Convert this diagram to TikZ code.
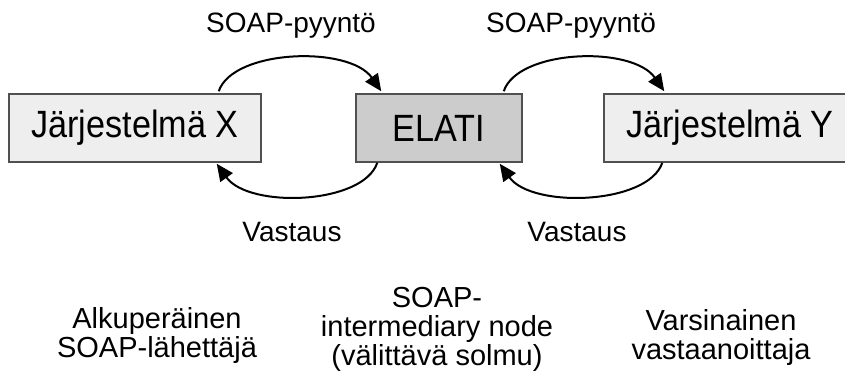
\documentclass[tikz,border=0pt]{standalone}
\usepackage{fontspec}
\setmainfont{Liberation Sans}
\newfontfamily\boxfont[FakeStretch=0.9]{Liberation Sans}
\usetikzlibrary{arrows.meta,calc}
\definecolor{lightbox}{HTML}{EEEEEE}
\definecolor{midbox}{HTML}{CCCCCC}
\definecolor{boxline}{HTML}{505050}
\tikzset{
  sysbox/.style={draw=boxline, line width=1.5pt, minimum width=252pt, minimum height=68pt, inner sep=0pt, font=\boxfont\fontsize{38}{40}\selectfont},
  flow/.style={line width=2pt, -{Triangle[length=17pt,width=15pt]}},
  lbl/.style={anchor=base, inner sep=0pt, font=\fontsize{28}{28}\selectfont},
  role/.style={anchor=base, inner sep=0pt, font=\fontsize{29}{28}\selectfont}
}
\begin{document}
\begin{tikzpicture}[x=1pt,y=-1pt]
\useasboundingbox (0,0) rectangle (845,371);
\clip (0,0) rectangle (845,371);
\fill[white] (0,0) rectangle (845,371);
\node[sysbox, fill=lightbox] (X) at (135,128) {Järjestelmä X};
\node[sysbox, fill=midbox, minimum width=166pt] (E) at (439,128) {ELATI};
\node[sysbox, fill=lightbox] (Y) at (730,128) {Järjestelmä Y};
\draw[flow] ($(X.north east)+(-43,-2)$) .. controls +(14,-42) and +(-32,-46) .. ($(E.north west)+(26,-2)$);
\draw[flow] ($(E.south west)+(22,0)$) .. controls +(-14,42) and +(32,45) .. ($(X.south east)+(-45,1)$);
\draw[flow] ($(E.north east)+(-19,-2)$) .. controls +(14,-42) and +(-32,-46) .. ($(Y.north west)+(61,-2)$);
\draw[flow] ($(Y.south west)+(59,0)$) .. controls +(-14,42) and +(32,45) .. ($(E.south east)+(-23,1)$);
\node[lbl] (req1) at (291,33) {SOAP-pyyntö};
\node[lbl] (req2) at (571,33) {SOAP-pyyntö};
\node[lbl] (res1) at (292,242) {Vastaus};
\node[lbl] (res2) at (577,242) {Vastaus};
\node[role] (r1) at (157,328) {\begin{tabular}[t]{@{}c@{}}Alkuperäinen\\SOAP-lähettäjä\end{tabular}};
\node[role] (r2) at (437,307) {\begin{tabular}[t]{@{}c@{}}SOAP-\\intermediary node\\(välittävä solmu)\end{tabular}};
\node[role] (r3) at (721,330) {\begin{tabular}[t]{@{}c@{}}Varsinainen\\vastaanoittaja\end{tabular}};
\end{tikzpicture}
\end{document}
